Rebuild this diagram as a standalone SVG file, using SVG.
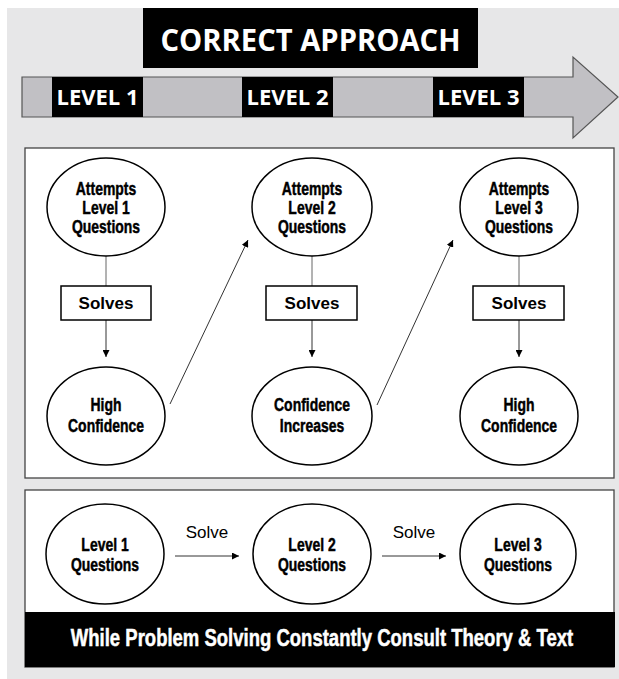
<svg xmlns="http://www.w3.org/2000/svg" width="619" height="679" viewBox="0 0 619 679">
<style>
.bg{fill:#e7e7e8}
.panel{fill:#fff;stroke:#444;stroke-width:1.3}
.blk{fill:#000}
.ttl{font-family:"Open Sans","Liberation Sans",sans-serif;font-weight:bold;fill:#fff;text-anchor:middle}
.node{fill:#fff;stroke:#000;stroke-width:1.5}
.box{fill:#fff;stroke:#000;stroke-width:1.5}
.nt{font-family:"Liberation Sans",Arial,sans-serif;font-weight:bold;font-size:18px;fill:#000;stroke:#000;stroke-width:0.45;text-anchor:middle}
.bt{font-family:"Liberation Sans",Arial,sans-serif;font-weight:bold;font-size:17px;fill:#000;text-anchor:middle}
.lt{font-family:"Liberation Sans",Arial,sans-serif;font-size:17px;fill:#000;text-anchor:middle}
.conn{stroke:#666;stroke-width:1;fill:none}
.arr{stroke:#333;stroke-width:1;fill:none;marker-end:url(#ah)}
.ft{font-family:"Liberation Sans",Arial,sans-serif;font-weight:bold;font-size:23px;fill:#fff;stroke:#fff;stroke-width:0.5;text-anchor:middle}
</style>
<defs>
<marker id="ah" viewBox="0 0 10 10" refX="10" refY="5" markerWidth="7" markerHeight="7" markerUnits="userSpaceOnUse" orient="auto">
<path d="M0,0 L10,5 L0,10 Z" fill="#000"/>
</marker>
</defs>
<rect class="bg" x="7" y="8" width="612" height="671"/>

<g id="title">
<rect class="blk" x="143" y="8" width="335" height="60"/>
<text class="ttl" x="310.5" y="51" font-size="30" textLength="300" lengthAdjust="spacingAndGlyphs">CORRECT APPROACH</text>
</g>

<g id="level-arrow">
<path d="M22,77 H573 V57 L618,97 L573,138 V117 H22 Z" fill="#c1c0c4" stroke="#555" stroke-width="1.2"/>
<rect class="blk" x="52" y="77" width="91" height="40"/>
<rect class="blk" x="242" y="77" width="91" height="40"/>
<rect class="blk" x="433" y="77" width="91" height="40"/>
<text class="ttl" x="97.5" y="105" font-size="22" textLength="82" lengthAdjust="spacingAndGlyphs">LEVEL 1</text>
<text class="ttl" x="287.5" y="105" font-size="22" textLength="82" lengthAdjust="spacingAndGlyphs">LEVEL 2</text>
<text class="ttl" x="478.5" y="105" font-size="22" textLength="82" lengthAdjust="spacingAndGlyphs">LEVEL 3</text>
</g>

<rect id="panel-top" class="panel" x="25" y="148" width="589" height="330"/>
<g id="panel-bottom">
<rect class="panel" x="25" y="490" width="589" height="177"/>
<rect class="blk" x="25" y="612" width="590" height="55"/>
<text class="ft" transform="translate(322,646) scale(0.8,1)" x="0" y="0" textLength="628" lengthAdjust="spacingAndGlyphs">While Problem Solving Constantly Consult Theory &amp; Text</text>
</g>

<g id="connectors">
<line class="conn" x1="106" y1="256" x2="106" y2="286"/>
<line class="arr" x1="106" y1="320" x2="106" y2="357"/>
<line class="conn" x1="312" y1="256" x2="312" y2="286"/>
<line class="arr" x1="312" y1="320" x2="312" y2="357"/>
<line class="conn" x1="519" y1="256" x2="519" y2="286"/>
<line class="arr" x1="519" y1="320" x2="519" y2="357"/>
<line class="arr" x1="170" y1="404" x2="248" y2="240"/>
<line class="arr" x1="377" y1="405" x2="453" y2="240"/>
<line class="arr" x1="175" y1="556" x2="239" y2="556"/>
<line class="arr" x1="382" y1="556" x2="446" y2="556"/>
<text class="lt" x="207" y="538">Solve</text>
<text class="lt" x="414" y="538">Solve</text>
</g>

<g id="n-attempt1">
<ellipse class="node" cx="106" cy="207" rx="59" ry="49"/>
<text class="nt" transform="translate(106,195) scale(0.775,1)">Attempts</text>
<text class="nt" transform="translate(106,214) scale(0.775,1)">Level 1</text>
<text class="nt" transform="translate(106,233) scale(0.775,1)">Questions</text>
</g>
<g id="n-attempt2">
<ellipse class="node" cx="312" cy="207" rx="60" ry="49"/>
<text class="nt" transform="translate(312,195) scale(0.775,1)">Attempts</text>
<text class="nt" transform="translate(312,214) scale(0.775,1)">Level 2</text>
<text class="nt" transform="translate(312,233) scale(0.775,1)">Questions</text>
</g>
<g id="n-attempt3">
<ellipse class="node" cx="519" cy="207" rx="59" ry="49"/>
<text class="nt" transform="translate(519,195) scale(0.775,1)">Attempts</text>
<text class="nt" transform="translate(519,214) scale(0.775,1)">Level 3</text>
<text class="nt" transform="translate(519,233) scale(0.775,1)">Questions</text>
</g>

<g id="n-solves1">
<rect class="box" x="61" y="286" width="90" height="34"/>
<text class="bt" x="106" y="309">Solves</text>
</g>
<g id="n-solves2">
<rect class="box" x="266" y="286" width="91" height="34"/>
<text class="bt" x="312" y="309">Solves</text>
</g>
<g id="n-solves3">
<rect class="box" x="473" y="286" width="91" height="34"/>
<text class="bt" x="519" y="309">Solves</text>
</g>

<g id="n-conf1">
<ellipse class="node" cx="106" cy="416" rx="59" ry="49"/>
<text class="nt" transform="translate(106,411) scale(0.775,1)">High</text>
<text class="nt" transform="translate(106,432) scale(0.775,1)">Confidence</text>
</g>
<g id="n-conf2">
<ellipse class="node" cx="312" cy="416" rx="60" ry="49"/>
<text class="nt" transform="translate(312,411) scale(0.775,1)">Confidence</text>
<text class="nt" transform="translate(312,432) scale(0.775,1)">Increases</text>
</g>
<g id="n-conf3">
<ellipse class="node" cx="519" cy="416" rx="59" ry="49"/>
<text class="nt" transform="translate(519,411) scale(0.775,1)">High</text>
<text class="nt" transform="translate(519,432) scale(0.775,1)">Confidence</text>
</g>

<g id="n-q1">
<ellipse class="node" cx="105" cy="554" rx="59" ry="50"/>
<text class="nt" transform="translate(105,551) scale(0.775,1)">Level 1</text>
<text class="nt" transform="translate(105,571) scale(0.775,1)">Questions</text>
</g>
<g id="n-q2">
<ellipse class="node" cx="312" cy="554" rx="59" ry="50"/>
<text class="nt" transform="translate(312,551) scale(0.775,1)">Level 2</text>
<text class="nt" transform="translate(312,571) scale(0.775,1)">Questions</text>
</g>
<g id="n-q3">
<ellipse class="node" cx="518" cy="554" rx="58" ry="50"/>
<text class="nt" transform="translate(518,551) scale(0.775,1)">Level 3</text>
<text class="nt" transform="translate(518,571) scale(0.775,1)">Questions</text>
</g>
</svg>
